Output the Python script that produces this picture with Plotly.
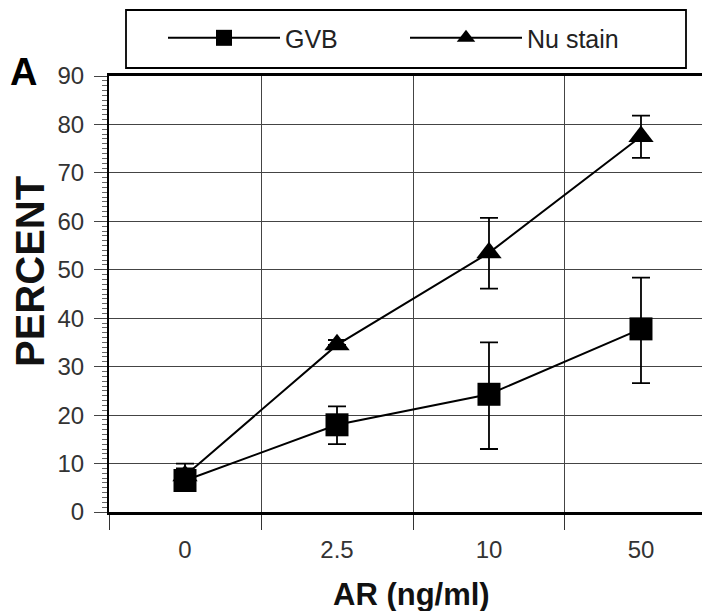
import plotly.graph_objects as go

categories = ["0", "2.5", "10", "50"]
gvb = [6.5, 18.0, 24.3, 37.8]
gvb_err_plus = [2.5, 3.8, 10.7, 10.6]
gvb_err_minus = [2.0, 4.0, 11.3, 11.2]
nu = [7.5, 34.5, 53.5, 77.5]
nu_err_plus = [2.5, 1.0, 7.2, 4.3]
nu_err_minus = [2.5, 0.0, 7.4, 4.4]

fig = go.Figure()
fig.add_trace(go.Scatter(
    x=categories, y=gvb, name="GVB", mode="lines+markers", legend="legend",
    line=dict(color="black", width=2),
    marker=dict(symbol="square", size=23, color="black"),
    error_y=dict(type="data", array=gvb_err_plus, arrayminus=gvb_err_minus,
                 color="black", thickness=1.8, width=9),
))
fig.add_trace(go.Scatter(
    x=categories, y=nu, name="Nu stain", mode="lines+markers", legend="legend2",
    line=dict(color="black", width=2),
    marker=dict(symbol="triangle-up", size=22, color="black"),
    error_y=dict(type="data", array=nu_err_plus, arrayminus=nu_err_minus,
                 color="black", thickness=1.8, width=9),
))

legend_style = dict(
    orientation="h", yanchor="middle", y=1.087, xanchor="left",
    borderwidth=0, bgcolor="rgba(0,0,0,0)",
    font=dict(size=25, color="#222"),
    itemwidth=112, itemsizing="trace",
)

# page body adds an 8px offset; figure is sized to end at the window edge
fig.update_layout(
    width=702, height=603,
    margin=dict(l=101, r=0, t=68, b=99, autoexpand=False),
    paper_bgcolor="white", plot_bgcolor="white",
    font=dict(family="Liberation Sans, Arial, sans-serif", color="black"),
    showlegend=True,
    legend=dict(legend_style, x=(163 - 109) / 601),
    legend2=dict(legend_style, x=(405 - 109) / 601),
    xaxis=dict(
        type="category", range=[-0.5, 3.454], automargin=False,
        tickson="boundaries", ticks="outside", ticklen=15, tickwidth=1.2,
        tickcolor="#333", ticklabelstandoff=14,
        showgrid=True, gridcolor="#444", gridwidth=1.3,
        showline=True, linecolor="black", linewidth=2.5, mirror=True,
        tickfont=dict(size=24, color="#333"),
        zeroline=False,
    ),
    yaxis=dict(
        range=[0, 90], dtick=10, tick0=0, automargin=False,
        ticks="outside", ticklen=13, tickwidth=1.2, tickcolor="#444",
        ticklabelstandoff=5,
        minor=dict(dtick=1, ticks="outside", ticklen=5, tickcolor="#666", showgrid=False),
        showgrid=True, gridcolor="#444", gridwidth=1.3,
        showline=True, linecolor="black", linewidth=2,
        tickfont=dict(size=24, color="#333"),
        zeroline=False,
    ),
    shapes=[dict(
        type="rect", xref="paper", yref="paper",
        x0=(126 - 109) / 601, x1=(686 - 109) / 601,
        y0=1 + (76 - 68) / 436, y1=1 + (76 - 10) / 436,
        line=dict(color="black", width=1.8), fillcolor="white", layer="below",
    )],
    annotations=[
        dict(text="<b>A</b>", xref="paper", yref="paper",
             x=-0.143, y=1.01, xanchor="center", yanchor="middle",
             showarrow=False, font=dict(size=38, color="black")),
        dict(text="<b>PERCENT</b>", xref="paper", yref="paper",
             x=(30 - 109) / 601, y=(512 - 272) / 436, xanchor="center", yanchor="middle",
             textangle=-90, showarrow=False, font=dict(size=40, color="#111")),
        dict(text="<b>AR (ng/ml)</b>", xref="paper", yref="paper",
             x=(411 - 109) / 601, y=(512 - 594) / 436, xanchor="center", yanchor="middle",
             showarrow=False, font=dict(size=31, color="#111")),
    ],
)

fig.write_html("out.html")
